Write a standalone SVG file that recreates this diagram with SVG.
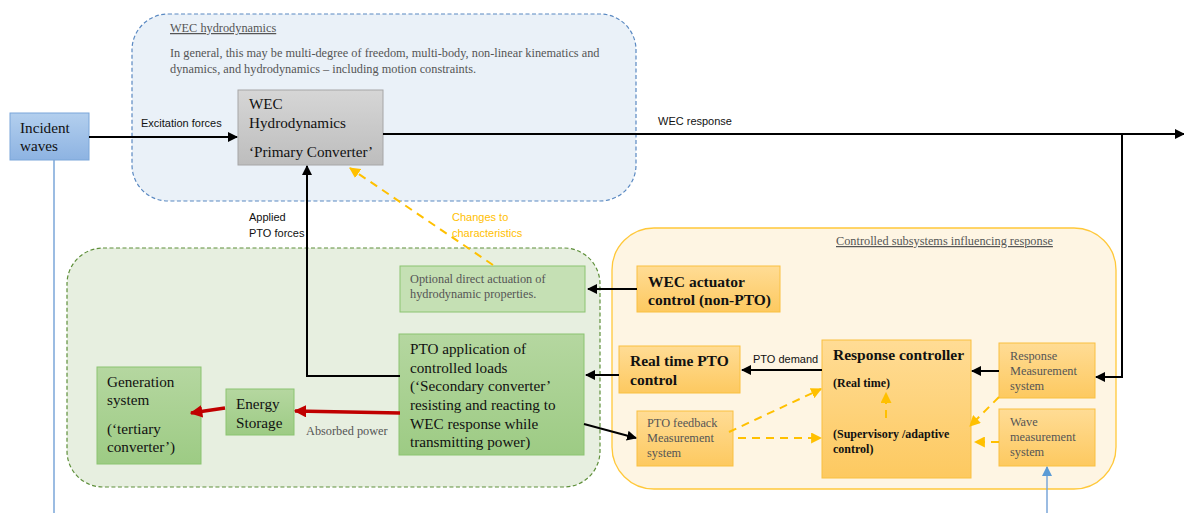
<svg xmlns="http://www.w3.org/2000/svg" width="1184" height="513" viewBox="0 0 1184 513">
<style>
.serif{font-family:"Liberation Serif","Times New Roman",serif}
.sans{font-family:"Liberation Sans",Arial,sans-serif}
.t16{font-size:15.2px;fill:#111}
.b16{font-size:15.5px;font-weight:bold;fill:#111}
.g12{font-size:12.3px;fill:#555}
.lbl{font-size:11px;fill:#111}
.blk{stroke:#000;stroke-width:2;fill:none}
.red{stroke:#c00000;stroke-width:3.5;fill:none}
.org{stroke:#ffc000;stroke-width:2;fill:none;stroke-dasharray:8,6}
.blu{stroke:#7aa6d9;stroke-width:1.5;fill:none}
</style>
<defs>
<linearGradient id="gBlue" x1="0" y1="0" x2="0" y2="1"><stop offset="0" stop-color="#b3cfee"/><stop offset="1" stop-color="#8db3e2"/></linearGradient>
<linearGradient id="gGrey" x1="0" y1="0" x2="0" y2="1"><stop offset="0" stop-color="#d6d6d6"/><stop offset="1" stop-color="#bdbdbd"/></linearGradient>
<linearGradient id="gGreen" x1="0" y1="0" x2="0" y2="1"><stop offset="0" stop-color="#b5d7a0"/><stop offset="1" stop-color="#9dcb84"/></linearGradient>
<linearGradient id="gOrg" x1="0" y1="0" x2="0" y2="1"><stop offset="0" stop-color="#ffdc95"/><stop offset="1" stop-color="#fdc960"/></linearGradient>
<marker id="aBlk" viewBox="0 0 10 10" refX="9" refY="5" markerWidth="5" markerHeight="5" orient="auto" markerUnits="strokeWidth"><path d="M0,0L10,5L0,10z" fill="#000"/></marker>
<marker id="aRed" viewBox="0 0 10 10" refX="9" refY="5" markerWidth="3.6" markerHeight="3.6" orient="auto" markerUnits="strokeWidth"><path d="M0,0L10,5L0,10z" fill="#c00000"/></marker>
<marker id="aOrg" viewBox="0 0 10 10" refX="9" refY="5" markerWidth="5.5" markerHeight="5.5" orient="auto" markerUnits="strokeWidth"><path d="M0,0L10,5L0,10z" fill="#ffc000"/></marker>
<marker id="aBlu" viewBox="0 0 10 10" refX="9" refY="5" markerWidth="7" markerHeight="7" orient="auto" markerUnits="strokeWidth"><path d="M0,0L10,5L0,10z" fill="#5b9bd5"/></marker>
</defs>
<rect width="1184" height="513" fill="#fff"/>

<g id="container-hydro">
<rect x="132" y="14" width="504" height="187" rx="36" fill="#eaf1f8" stroke="#5a89c2" stroke-width="1.2" stroke-dasharray="4,2.5"/>
<text class="serif g12" x="170" y="32" text-decoration="underline">WEC hydrodynamics</text>
<text class="serif g12" x="170" y="57">In general, this may be multi-degree of freedom, multi-body, non-linear kinematics and</text>
<text class="serif g12" x="170" y="73">dynamics, and hydrodynamics – including motion constraints.</text>
</g>
<g id="container-pto">
<rect x="67" y="248" width="533" height="239" rx="36" fill="#e7efe0" stroke="#5e8f3a" stroke-width="1.2" stroke-dasharray="4,2.5"/>
</g>
<g id="container-control">
<rect x="612" y="228" width="504" height="261" rx="42" fill="#fef5e3" stroke="#ffc83a" stroke-width="1.3"/>
<text class="serif g12" x="836" y="245" text-decoration="underline">Controlled subsystems influencing response</text>
</g>

<g id="incident-waves">
<rect x="10" y="113" width="79" height="47" fill="url(#gBlue)" stroke="#7aa6d9" stroke-width="1"/>
<text class="serif t16" x="20" y="133">Incident</text>
<text class="serif t16" x="20" y="151">waves</text>
</g>
<g id="wec-hydro">
<rect x="238" y="90" width="145" height="75" fill="url(#gGrey)" stroke="#a6a6a6" stroke-width="1"/>
<text class="serif t16" x="249" y="109">WEC</text>
<text class="serif t16" x="249" y="128">Hydrodynamics</text>
<text class="serif t16" x="249" y="157">‘Primary Converter’</text>
</g>
<g id="optional-actuation">
<rect x="400" y="266" width="185" height="46" fill="#c5e0b4" stroke="#8bc470" stroke-width="1"/>
<text class="serif g12" x="410" y="283">Optional direct actuation of</text>
<text class="serif g12" x="410" y="298">hydrodynamic properties.</text>
</g>
<g id="pto-application">
<rect x="399" y="334" width="185" height="121" fill="url(#gGreen)" stroke="#8bc470" stroke-width="1"/>
<text class="serif t16" x="410" y="354">PTO application of</text>
<text class="serif t16" x="410" y="373">controlled loads</text>
<text class="serif t16" x="410" y="391">(‘Secondary converter’</text>
<text class="serif t16" x="410" y="410">resisting and reacting to</text>
<text class="serif t16" x="410" y="429">WEC response while</text>
<text class="serif t16" x="410" y="447">transmitting power)</text>
</g>
<g id="energy-storage">
<rect x="226" y="389" width="68" height="46" fill="url(#gGreen)" stroke="#8bc470" stroke-width="1"/>
<text class="serif t16" x="236" y="409">Energy</text>
<text class="serif t16" x="236" y="428">Storage</text>
</g>
<g id="generation">
<rect x="97" y="367" width="104" height="97" fill="url(#gGreen)" stroke="#8bc470" stroke-width="1"/>
<text class="serif t16" x="107" y="387">Generation</text>
<text class="serif t16" x="107" y="405">system</text>
<text class="serif t16" x="107" y="434">(‘tertiary</text>
<text class="serif t16" x="107" y="452">converter’)</text>
</g>
<g id="wec-actuator">
<rect x="637" y="266" width="143" height="46" fill="url(#gOrg)" stroke="#f9c040" stroke-width="1"/>
<text class="serif b16" x="648" y="287">WEC actuator</text>
<text class="serif b16" x="648" y="305">control (non-PTO)</text>
</g>
<g id="realtime-pto">
<rect x="619" y="346" width="121" height="47" fill="url(#gOrg)" stroke="#f9c040" stroke-width="1"/>
<text class="serif b16" x="630" y="366">Real time PTO</text>
<text class="serif b16" x="630" y="385">control</text>
</g>
<g id="pto-feedback">
<rect x="637" y="411" width="96" height="55" fill="url(#gOrg)" stroke="#f9c040" stroke-width="1"/>
<text class="serif g12" x="647" y="427">PTO feedback</text>
<text class="serif g12" x="647" y="442">Measurement</text>
<text class="serif g12" x="647" y="457">system</text>
</g>
<g id="response-controller">
<rect x="822" y="340" width="149" height="138" fill="url(#gOrg)" stroke="#f9c040" stroke-width="1"/>
<text class="serif b16" x="833" y="360">Response controller</text>
<text class="serif" x="833" y="387" font-size="12" font-weight="bold" fill="#111">(Real time)</text>
<text class="serif" x="833" y="438" font-size="12" font-weight="bold" fill="#111">(Supervisory /adaptive</text>
<text class="serif" x="833" y="453" font-size="12" font-weight="bold" fill="#111">control)</text>
</g>
<g id="response-measurement">
<rect x="999" y="343" width="96" height="55" fill="url(#gOrg)" stroke="#f9c040" stroke-width="1"/>
<text class="serif g12" x="1010" y="360">Response</text>
<text class="serif g12" x="1010" y="375">Measurement</text>
<text class="serif g12" x="1010" y="390">system</text>
</g>
<g id="wave-measurement">
<rect x="999" y="409" width="96" height="57" fill="url(#gOrg)" stroke="#f9c040" stroke-width="1"/>
<text class="serif g12" x="1010" y="426">Wave</text>
<text class="serif g12" x="1010" y="441">measurement</text>
<text class="serif g12" x="1010" y="456">system</text>
</g>

<g id="connectors">
<line class="blu" x1="54" y1="160" x2="54" y2="513"/>
<line class="blu" x1="1047" y1="513" x2="1047" y2="467" marker-end="url(#aBlu)"/>
<line class="blk" x1="89" y1="137" x2="237" y2="137" marker-end="url(#aBlk)"/>
<line class="blk" x1="383" y1="134" x2="1184" y2="134" marker-end="url(#aBlk)"/>
<polyline class="blk" points="1122,134 1122,377 1096,377" marker-end="url(#aBlk)"/>
<polyline class="blk" points="400,376 307,376 307,166" marker-end="url(#aBlk)"/>
<line class="blk" x1="637" y1="289" x2="588" y2="289" marker-end="url(#aBlk)"/>
<line class="blk" x1="619" y1="375" x2="586" y2="375" marker-end="url(#aBlk)"/>
<line class="blk" x1="822" y1="370" x2="742" y2="370" marker-end="url(#aBlk)"/>
<line class="blk" x1="999" y1="371" x2="972" y2="371" marker-end="url(#aBlk)"/>
<line class="blk" x1="584" y1="424" x2="636" y2="438" marker-end="url(#aBlk)"/>
<line class="red" x1="400" y1="413" x2="295" y2="411" marker-end="url(#aRed)"/>
<line class="red" x1="225" y1="408" x2="191" y2="413" marker-end="url(#aRed)"/>
<line class="org" x1="493" y1="265" x2="350" y2="168" marker-end="url(#aOrg)"/>
<line class="org" x1="729" y1="432" x2="821" y2="389" marker-end="url(#aOrg)"/>
<line class="org" x1="738" y1="438" x2="821" y2="438" marker-end="url(#aOrg)" stroke-dasharray="2,4,8,4"/>
<line class="org" x1="886" y1="418" x2="886" y2="393" marker-end="url(#aOrg)" stroke-dasharray="6,5"/>
<line class="org" x1="999" y1="397" x2="970" y2="426" marker-end="url(#aOrg)"/>
<line class="org" x1="999" y1="442" x2="975" y2="442" marker-end="url(#aOrg)" stroke-dasharray="6,5"/>
<text class="sans lbl" x="141" y="127">Excitation forces</text>
<text class="sans lbl" x="658" y="125">WEC response</text>
<text class="sans lbl" x="249" y="221">Applied</text>
<text class="sans lbl" x="249" y="237">PTO forces</text>
<text class="sans lbl" x="452" y="221" style="fill:#ffc000">Changes to</text>
<text class="sans lbl" x="452" y="237" style="fill:#ffc000">characteristics</text>
<text class="sans lbl" x="753" y="363">PTO demand</text>
<text class="serif g12" x="306" y="435">Absorbed power</text>
</g>
</svg>
